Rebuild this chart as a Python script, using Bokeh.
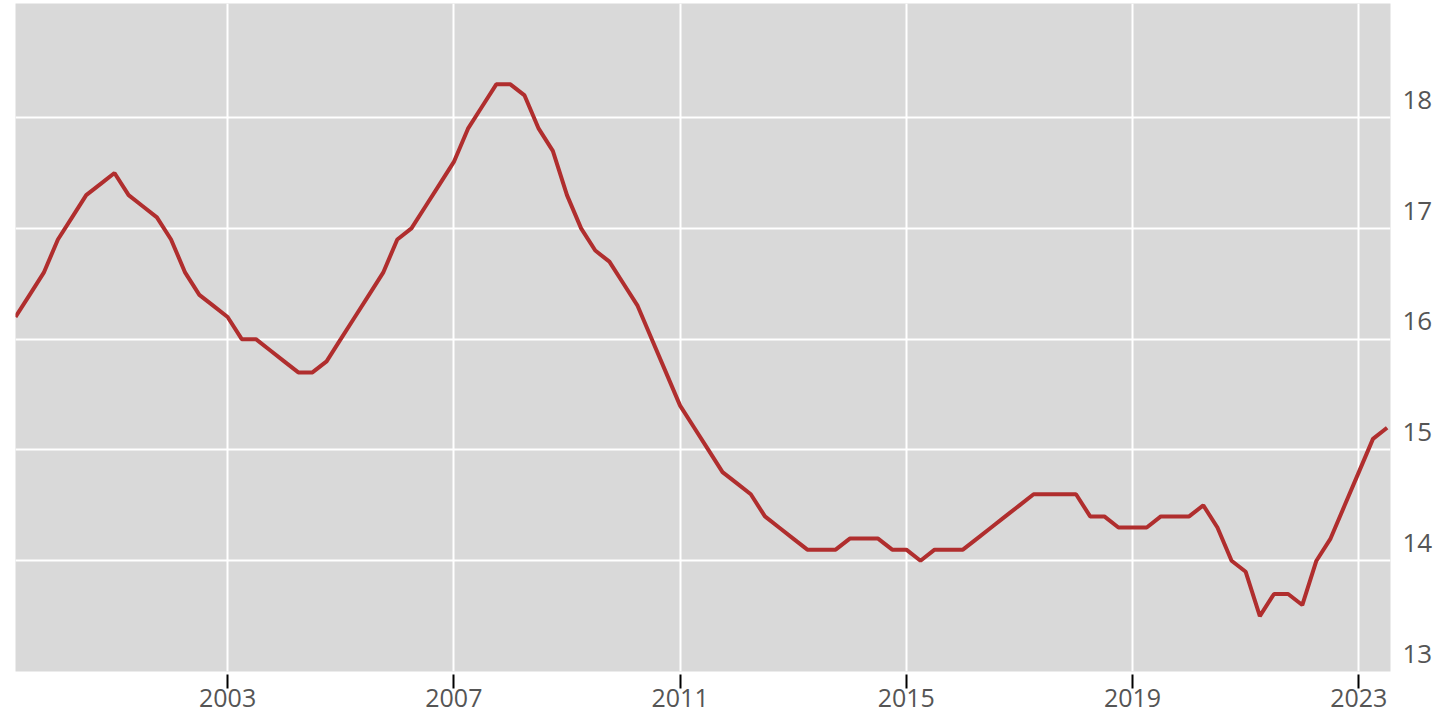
from bokeh.plotting import figure
from bokeh.models import Range1d, LinearAxis, FixedTicker, Grid
from bokeh.embed import file_html
from bokeh.resources import INLINE
import pandas as pd

# Quarterly series, starting 1999 Q2
start_quarter = "1999Q2"
values = [
    16.2, 16.4, 16.6, 16.9, 17.1, 17.3, 17.4, 17.5, 17.3, 17.2,
    17.1, 16.9, 16.6, 16.4, 16.3, 16.2, 16.0, 16.0, 15.9, 15.8,
    15.7, 15.7, 15.8, 16.0, 16.2, 16.4, 16.6, 16.9, 17.0, 17.2,
    17.4, 17.6, 17.9, 18.1, 18.3, 18.3, 18.2, 17.9, 17.7, 17.3,
    17.0, 16.8, 16.7, 16.5, 16.3, 16.0, 15.7, 15.4, 15.2, 15.0,
    14.8, 14.7, 14.6, 14.4, 14.3, 14.2, 14.1, 14.1, 14.1, 14.2,
    14.2, 14.2, 14.1, 14.1, 14.0, 14.1, 14.1, 14.1, 14.2, 14.3,
    14.4, 14.5, 14.6, 14.6, 14.6, 14.6, 14.4, 14.4, 14.3, 14.3,
    14.3, 14.4, 14.4, 14.4, 14.5, 14.3, 14.0, 13.9, 13.5, 13.7,
    13.7, 13.6, 14.0, 14.2, 14.5, 14.8, 15.1, 15.2,
]
x_ticks = [2003, 2007, 2011, 2015, 2019, 2023]
y_ticks = [13, 14, 15, 16, 17, 18]

periods = pd.period_range(start_quarter, periods=len(values), freq="Q")
xs = [pr.year + (pr.quarter - 1) / 4 for pr in periods]

FONT = "Open Sans"
LABEL_COLOR = "#555555"

y_start, y_end = 13.0, 19.03
label_shift = 0.16  # labels sit slightly above their gridlines

p = figure(
    frame_width=1375, frame_height=668,
    x_range=Range1d(1999.25, 2023.56), y_range=Range1d(y_start, y_end),
    x_axis_location=None, y_axis_location=None,
    toolbar_location=None, output_backend="svg",
    min_border_left=15, min_border_top=3, min_border_right=0, min_border_bottom=44,
    background_fill_color="#d9d9d9", border_fill_color="white",
    outline_line_color=None,
)
p.center = [r for r in p.center if not isinstance(r, Grid)]
p.add_layout(Grid(dimension=0, ticker=FixedTicker(ticks=x_ticks),
                  grid_line_color="white", grid_line_width=2))
p.add_layout(Grid(dimension=1, ticker=FixedTicker(ticks=y_ticks),
                  grid_line_color="white", grid_line_width=2))

p.extra_y_ranges = {"lab": Range1d(y_start - label_shift, y_end - label_shift)}

xaxis = LinearAxis(
    ticker=FixedTicker(ticks=x_ticks),
    axis_line_color=None,
    major_tick_line_color="black", major_tick_line_width=2,
    major_tick_in=-3, major_tick_out=17,
    minor_tick_line_color=None,
    major_label_standoff=0,
    major_label_text_font=FONT, major_label_text_font_size="25px",
    major_label_text_color=LABEL_COLOR,
)
p.add_layout(xaxis, "below")

yaxis = LinearAxis(
    y_range_name="lab",
    ticker=FixedTicker(ticks=y_ticks),
    axis_line_color=None,
    major_tick_line_color=None, minor_tick_line_color=None,
    major_label_standoff=6,
    major_label_text_font=FONT, major_label_text_font_size="26px",
    major_label_text_color=LABEL_COLOR,
)
p.add_layout(yaxis, "right")

p.line(xs, values, line_color="#b02e2e", line_width=4)

open("out.html", "w").write(file_html(p, INLINE))
